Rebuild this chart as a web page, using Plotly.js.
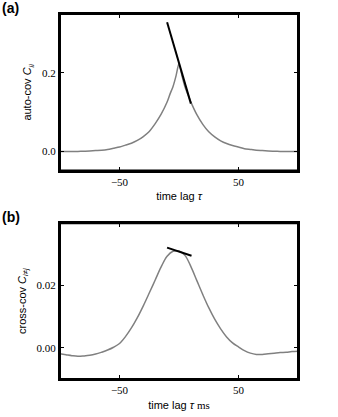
<!DOCTYPE html>
<html>
<head>
<meta charset="utf-8">
<script src="https://cdn.plot.ly/plotly-3.0.1.min.js"></script>
<style>
  html, body { margin: 0; padding: 0; background: #fff; }
  #plot { width: 338px; height: 417px; }
</style>
</head>
<body>
<div id="plot"></div>
<script>
// lag axis (same for both panels)
var lagA = [-100, -95, -90, -85, -80, -75, -70, -65, -60, -55, -50, -45, -40, -35, -30, -25, -20, -15, -10, -7.5, -5, -2.5,
            0, 2.5, 5, 7.5, 10, 15, 20, 25, 30, 35, 40, 45, 50, 55, 60, 65, 70, 75, 80, 85, 90, 95, 100];
// (a) auto-covariance
var autoCov = [-0.001, -0.001, -0.001, -0.001, -0.0005, 0.000, 0.001, 0.002, 0.004, 0.007, 0.010, 0.015, 0.020, 0.027, 0.037, 0.050, 0.070, 0.094, 0.125, 0.146, 0.165, 0.192,
               0.224, 0.192, 0.164, 0.144, 0.125, 0.093, 0.068, 0.049, 0.036, 0.026, 0.019, 0.014, 0.010, 0.006, 0.004, 0.002, 0.001, 0.000, -0.0005, -0.001, -0.001, -0.001, -0.001];
// tangent segment in (a)
var tanAx = [-10, 10];
var tanAy = [0.329, 0.121];

var lagB = [-100, -95, -90, -85, -80, -75, -70, -65, -60, -55, -50, -45, -40, -35, -30, -25, -20, -15, -10, -5,
            0, 5, 10, 15, 20, 25, 30, 35, 40, 45, 50, 55, 60, 65, 70, 75, 80, 85, 90, 95, 100];
// (b) cross-covariance
var crossCov = [-0.0019, -0.0022, -0.0025, -0.0027, -0.0026, -0.0024, -0.0020, -0.0014, -0.0007, 0.0002, 0.0014, 0.0036, 0.0064, 0.0097, 0.0135, 0.0176, 0.0218, 0.0260, 0.0294, 0.0310,
                0.0311, 0.0297, 0.0261, 0.0216, 0.0171, 0.0129, 0.0092, 0.0061, 0.0035, 0.0016, 0.0003, -0.0009, -0.0017, -0.0021, -0.0021, -0.0019, -0.0017, -0.0015, -0.0014, -0.0012, -0.0011];
var tanBx = [-10, 10.5];
var tanBy = [0.0322, 0.0296];

var xTicks = [-50, 50];

var grey = '#808080';
var serif = 'Liberation Serif';
var sans = 'Liberation Sans';

var traces = [
  {x: lagA, y: autoCov, mode: 'lines', line: {color: grey, width: 1.5, shape: 'spline', smoothing: 0.6}, xaxis: 'x', yaxis: 'y', hoverinfo: 'skip'},
  {x: tanAx, y: tanAy, mode: 'lines', line: {color: '#000', width: 2}, xaxis: 'x', yaxis: 'y', hoverinfo: 'skip'},
  {x: lagB, y: crossCov, mode: 'lines', line: {color: grey, width: 1.5, shape: 'spline', smoothing: 1}, xaxis: 'x2', yaxis: 'y2', hoverinfo: 'skip'},
  {x: tanBx, y: tanBy, mode: 'lines', line: {color: '#000', width: 2}, xaxis: 'x2', yaxis: 'y2', hoverinfo: 'skip'}
];

var titleFont = {family: sans, size: 11, color: '#000'};
var tickFont = {family: serif, size: 11, color: '#000'};

// box around each panel
function frame(xr, yr) {
  return {type: 'rect', xref: xr + ' domain', yref: yr + ' domain', x0: 0, x1: 1, y0: 0, y1: 1,
          line: {color: 'black', width: 2}, layer: 'above'};
}

var layout = {
  width: 338, height: 417,
  margin: {l: 60, r: 40, t: 14, b: 38},
  paper_bgcolor: '#fff', plot_bgcolor: '#fff',
  showlegend: false,
  xaxis: {range: [-100, 100], anchor: 'y', tickvals: xTicks, showline: true, mirror: 'ticks', linecolor: 'black', linewidth: 2,
          ticks: 'inside', ticklen: 4, tickcolor: 'black', showgrid: false, zeroline: false, tickfont: tickFont,
          title: {text: 'time lag <i>τ</i>', font: titleFont, standoff: 6}},
  yaxis: {range: [-0.05, 0.35], domain: [0.571, 1], anchor: 'x', tickvals: [0, 0.2], tickformat: '.1f', showline: true, mirror: 'ticks',
          linecolor: 'black', linewidth: 2, ticks: 'inside', ticklen: 4, tickcolor: 'black', showgrid: false, zeroline: false, tickfont: tickFont,
          title: {text: 'auto-cov <i>C</i><sub><i>ii</i></sub>', font: titleFont, standoff: 8}},
  xaxis2: {range: [-100, 100], anchor: 'y2', tickvals: xTicks, showline: true, mirror: 'ticks', linecolor: 'black', linewidth: 2,
           ticks: 'inside', ticklen: 4, tickcolor: 'black', showgrid: false, zeroline: false, tickfont: tickFont,
           title: {text: 'time lag <i>τ</i> <span style="font-family:Liberation Serif">ms</span>', font: titleFont, standoff: 6}},
  yaxis2: {range: [-0.01, 0.04], domain: [0, 0.4266], anchor: 'x2', tickvals: [0, 0.02], tickformat: '.2f', showline: true, mirror: 'ticks',
           linecolor: 'black', linewidth: 2, ticks: 'inside', ticklen: 4, tickcolor: 'black', showgrid: false, zeroline: false, tickfont: tickFont,
           title: {text: 'cross-cov <i>C</i><sub><i>i≠j</i></sub>', font: titleFont, standoff: 8}},
  shapes: [frame('x', 'y'), frame('x2', 'y2')],
  annotations: [
    {text: '<b>(a)</b>', xref: 'paper', yref: 'paper', x: -0.253, y: 1.016, xanchor: 'left', yanchor: 'middle', showarrow: false,
     font: {family: sans, size: 14, color: '#000'}},
    {text: '<b>(b)</b>', xref: 'paper', yref: 'paper', x: -0.253, y: 0.444, xanchor: 'left', yanchor: 'middle', showarrow: false,
     font: {family: sans, size: 14, color: '#000'}}
  ]
};

Plotly.newPlot('plot', traces, layout, {displayModeBar: false});
</script>
</body>
</html>
